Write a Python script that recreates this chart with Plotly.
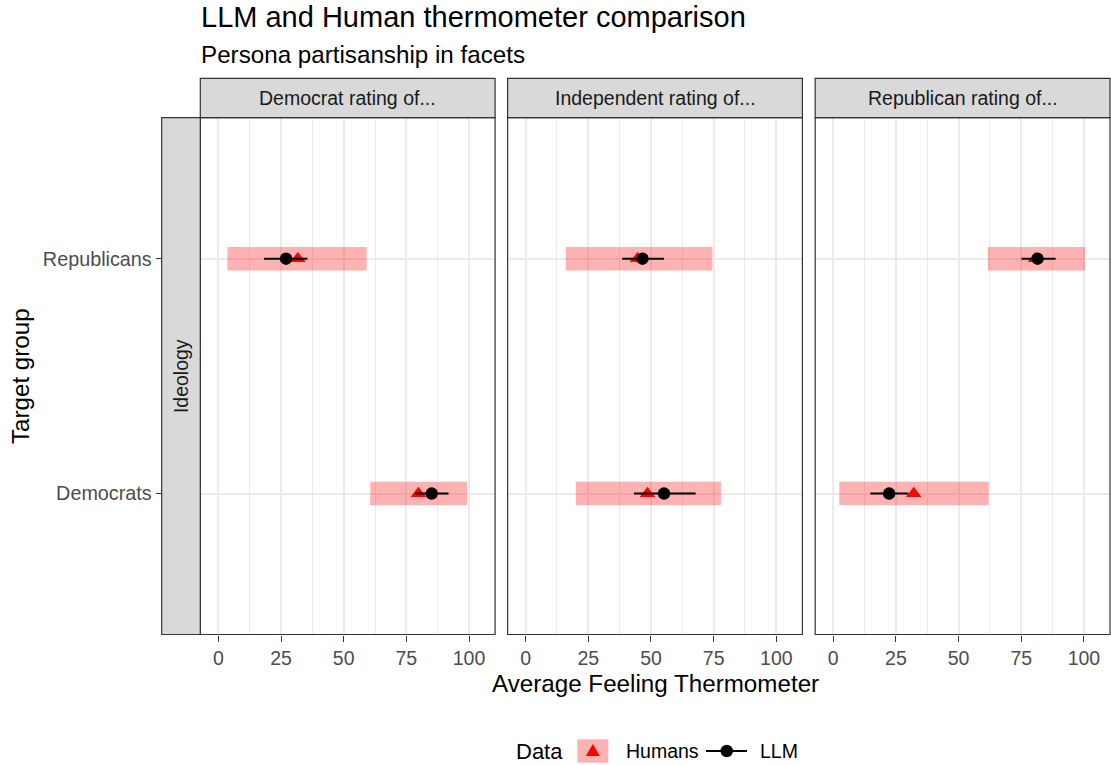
import plotly.graph_objects as go

# ---------------- data ----------------
facets = ["Democrat rating of...", "Independent rating of...", "Republican rating of..."]
groups = ["Democrats", "Republicans"]          # y positions 1, 2
group_pos = [1, 2]

# Humans: mean (triangle) and shaded interval (rect), ordered as groups
human_mean = [[79.8, 31.7], [48.6, 44.6], [32.1, 80.7]]
human_low = [[60.6, 3.6], [20.0, 16.0], [2.4, 61.7]]
human_high = [[99.2, 59.2], [77.9, 74.5], [62.0, 100.4]]

# LLM: mean (point) with interval (error bar)
llm_mean = [[85.1, 27.0], [55.2, 46.6], [22.3, 81.5]]
llm_low = [[78.5, 18.2], [43.2, 38.5], [14.8, 75.1]]
llm_high = [[91.8, 35.5], [67.8, 55.2], [29.9, 88.7]]

x_ticks = [0, 25, 50, 75, 100]

# ---------------- layout helpers ----------------
W, H = 1111, 765
def fx(x):
    return x / W
def fy(y):
    return 1 - y / H

FONT = "Liberation Sans, Arial, sans-serif"
panel_left = [200.3, 507.6, 815.2]
panel_w = 294.8
panel_top, panel_bot = 117.7, 634.5
strip_top = 78.3
BORDER = "#333333"
GRID = "#EBEBEB"

fig = go.Figure()

for i in range(3):
    xa = "x" if i == 0 else f"x{i+1}"
    ya = "y" if i == 0 else f"y{i+1}"
    widths = [h - l for h, l in zip(human_high[i], human_low[i])]
    fig.add_trace(go.Bar(
        orientation="h", y=group_pos, x=widths, base=human_low[i], width=0.1,
        marker=dict(color="rgba(255,0,0,0.3)", line=dict(width=0)),
        xaxis=xa, yaxis=ya, showlegend=False, hoverinfo="skip"))
    fig.add_trace(go.Scatter(
        x=human_mean[i], y=group_pos, mode="markers",
        marker=dict(symbol="triangle-up", size=13.5, color="#FF0000", line=dict(width=0)),
        xaxis=xa, yaxis=ya, showlegend=False, name="Humans"))
    fig.add_trace(go.Scatter(
        x=llm_mean[i], y=group_pos, mode="markers",
        marker=dict(symbol="circle", size=12.5, color="black", line=dict(width=0)),
        error_x=dict(type="data", symmetric=False,
                     array=[h - m for h, m in zip(llm_high[i], llm_mean[i])],
                     arrayminus=[m - l for m, l in zip(llm_mean[i], llm_low[i])],
                     color="black", thickness=2, width=0),
        xaxis=xa, yaxis=ya, showlegend=False, name="LLM"))

layout = dict(
    width=W, height=H,
    margin=dict(l=0, r=0, t=0, b=0),
    paper_bgcolor="white", plot_bgcolor="white",
    font=dict(family=FONT, color="#1A1A1A"),
    showlegend=False, barmode="overlay",
)

xrange = [-7.2, 110.4]
yrange = [0.4, 2.6]
ydom = [fy(panel_bot), fy(panel_top)]
for i in range(3):
    key = "xaxis" if i == 0 else f"xaxis{i+1}"
    layout[key] = dict(
        domain=[fx(panel_left[i]), fx(panel_left[i] + panel_w)],
        anchor="y" if i == 0 else f"y{i+1}",
        range=xrange, tickvals=x_ticks, ticktext=[str(t) for t in x_ticks],
        ticks="outside", ticklen=6, tickwidth=1.1, tickcolor=BORDER,
        tickfont=dict(size=19.5, color="#4D4D4D", family=FONT),
        showgrid=True, gridcolor=GRID, gridwidth=1.5,
        minor=dict(dtick=12.5, tick0=0, showgrid=True, gridcolor=GRID, gridwidth=0.8, ticks=""),
        zeroline=False, showline=False, fixedrange=True,
    )
    ykey = "yaxis" if i == 0 else f"yaxis{i+1}"
    ycfg = dict(
        domain=ydom, range=yrange, tickvals=group_pos,
        showgrid=True, gridcolor=GRID, gridwidth=1.5,
        zeroline=False, showline=False, fixedrange=True,
    )
    if i == 0:
        ycfg.update(anchor="free", position=fx(161.7), ticktext=groups,
                    ticks="outside", ticklen=6, tickwidth=1.1, tickcolor=BORDER,
                    tickfont=dict(size=19.8, color="#4D4D4D", family=FONT))
    else:
        ycfg.update(anchor=f"x{i+1}", matches="y", showticklabels=False, ticks="")
    layout[ykey] = ycfg

shapes = []
annotations = []
for i in range(3):
    l, r = panel_left[i], panel_left[i] + panel_w
    # top strip
    shapes.append(dict(type="rect", xref="paper", yref="paper",
                       x0=fx(l), x1=fx(r), y0=fy(panel_top), y1=fy(strip_top),
                       fillcolor="#D9D9D9", line=dict(color=BORDER, width=1.2), layer="above"))
    annotations.append(dict(text=facets[i], xref="paper", yref="paper",
                            x=fx((l + r) / 2), y=fy((strip_top + panel_top) / 2),
                            showarrow=False, xanchor="center", yanchor="middle",
                            font=dict(size=19.5, color="#1A1A1A", family=FONT)))
    # panel border
    shapes.append(dict(type="rect", xref="paper", yref="paper",
                       x0=fx(l), x1=fx(r), y0=fy(panel_bot), y1=fy(panel_top),
                       fillcolor="rgba(0,0,0,0)", line=dict(color=BORDER, width=1.2), layer="above"))

# left row strip
shapes.append(dict(type="rect", xref="paper", yref="paper",
                   x0=fx(161.7), x1=fx(200.3), y0=fy(panel_bot), y1=fy(panel_top),
                   fillcolor="#D9D9D9", line=dict(color=BORDER, width=1.2), layer="above"))
annotations.append(dict(text="Ideology", xref="paper", yref="paper",
                        x=fx(181), y=fy((panel_top + panel_bot) / 2), textangle=-90,
                        showarrow=False, xanchor="center", yanchor="middle",
                        font=dict(size=19.5, color="#1A1A1A", family=FONT)))

# titles
annotations.append(dict(text="LLM and Human thermometer comparison", xref="paper", yref="paper",
                        x=fx(199), y=fy(16.5), showarrow=False, xanchor="left", yanchor="middle",
                        font=dict(size=29, color="black", family=FONT)))
annotations.append(dict(text="Persona partisanship in facets", xref="paper", yref="paper",
                        x=fx(199), y=fy(54.5), showarrow=False, xanchor="left", yanchor="middle",
                        font=dict(size=24.2, color="black", family=FONT)))
annotations.append(dict(text="Average Feeling Thermometer", xref="paper", yref="paper",
                        x=fx((panel_left[0] + panel_left[2] + panel_w) / 2), y=fy(683),
                        showarrow=False, xanchor="center", yanchor="middle",
                        font=dict(size=24.2, color="black", family=FONT)))
annotations.append(dict(text="Target group", xref="paper", yref="paper",
                        x=fx(20), y=fy((panel_top + panel_bot) / 2), textangle=-90,
                        showarrow=False, xanchor="center", yanchor="middle",
                        font=dict(size=24.2, color="black", family=FONT)))

# manual legend
ly = 751
annotations.append(dict(text="Data", xref="paper", yref="paper", x=fx(514), y=fy(ly),
                        showarrow=False, xanchor="left", yanchor="middle",
                        font=dict(size=22, color="black", family=FONT)))
shapes.append(dict(type="rect", xref="paper", yref="paper",
                   x0=fx(577.3), x1=fx(608.3), y0=fy(762.7), y1=fy(739.3),
                   fillcolor="rgba(255,0,0,0.3)", line=dict(width=0)))
tcx, tcy = 592.8, 751
shapes.append(dict(type="path", xref="paper", yref="paper",
                   path=f"M {fx(tcx)} {fy(tcy-7)} L {fx(tcx-7)} {fy(tcy+5)} L {fx(tcx+7)} {fy(tcy+5)} Z",
                   fillcolor="#FF0000", line=dict(width=0)))
annotations.append(dict(text="Humans", xref="paper", yref="paper", x=fx(624), y=fy(ly),
                        showarrow=False, xanchor="left", yanchor="middle",
                        font=dict(size=19.5, color="black", family=FONT)))
shapes.append(dict(type="line", xref="paper", yref="paper",
                   x0=fx(706), x1=fx(747), y0=fy(ly), y1=fy(ly),
                   line=dict(color="black", width=2)))
shapes.append(dict(type="circle", xref="paper", yref="paper",
                   x0=fx(720.5), x1=fx(733), y0=fy(ly + 6.2), y1=fy(ly - 6.2),
                   fillcolor="black", line=dict(width=0)))
annotations.append(dict(text="LLM", xref="paper", yref="paper", x=fx(758), y=fy(ly),
                        showarrow=False, xanchor="left", yanchor="middle",
                        font=dict(size=19.5, color="black", family=FONT)))

layout["shapes"] = shapes
layout["annotations"] = annotations
fig.update_layout(**layout)

fig.write_html(
    "out.html",
    config={"displayModeBar": False},
    post_script="document.body.style.margin='0';document.body.style.padding='0';document.body.style.overflow='hidden';",
)
